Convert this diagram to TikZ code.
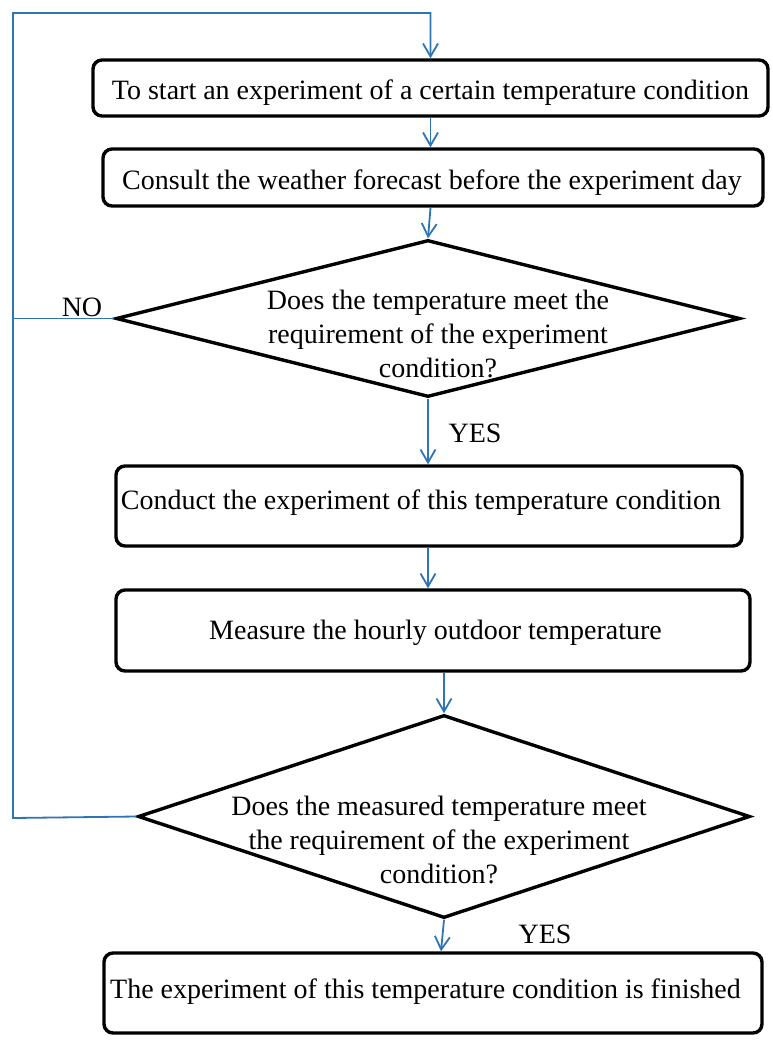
\documentclass[tikz,border=0pt]{standalone}
\usepackage{fontspec}
\setmainfont{Liberation Serif}
\usetikzlibrary{shapes.geometric,arrows.meta}
\definecolor{flowblue}{RGB}{46,117,182}
\tikzset{
  stepbox/.style={draw=black,line width=3.4pt,rounded corners=9pt,inner sep=0pt},
  decision/.style={draw=black,line width=3.4pt,diamond,inner sep=0pt},
  flow/.style={draw=flowblue,line width=1.8pt},
  flowarrow/.style={flow,-{Straight Barb[length=13pt,width=15pt,line width=1.8pt]}},
  txt/.style={font=\fontsize{28}{34}\selectfont,align=center,inner sep=0pt},
}
\begin{document}
\begin{tikzpicture}[x=1pt,y=-1pt]
\useasboundingbox (0,0) rectangle (772,1043);
% boxes
\node[stepbox,minimum width=675pt,minimum height=56pt] (b1) at (430.5,88) {};
\node[txt] (t1) at (430.5,93) {To start an experiment of a certain temperature condition};
\node[stepbox,minimum width=660pt,minimum height=57pt] (b2) at (433,177.5) {};
\node[txt] (t2) at (432,183) {Consult the weather forecast before the experiment day};
\node[decision,minimum width=624pt,minimum height=157pt] (d1) at (428,318.5) {};
\node[txt] (t3) at (438,334) {Does the temperature meet the\\requirement of the experiment\\condition?};
\node[stepbox,minimum width=626pt,minimum height=80pt] (b3) at (429,506) {};
\node[txt] (t4) at (421,503) {Conduct the experiment of this temperature condition};
\node[stepbox,minimum width=634pt,minimum height=81pt] (b4) at (433,630.5) {};
\node[txt] (t5) at (435.5,633) {Measure the hourly outdoor temperature};
\node[decision,minimum width=612pt,minimum height=203pt] (d2) at (444,816.5) {};
\node[txt] (t6) at (439,840) {Does the measured temperature meet\\the requirement of the experiment\\condition?};
\node[stepbox,minimum width=658pt,minimum height=80pt] (b5) at (433,993) {};
\node[txt] (t7) at (425.5,992) {The experiment of this temperature condition is finished};
% labels
\node[txt] (no) at (82,307) {NO};
\node[txt] (yes1) at (475,433) {YES};
\node[txt] (yes2) at (545,934) {YES};
% loop
\coordinate (lb) at (13,818);
\coordinate (lt) at (13,13);
\draw[flow] (d1.west) -- (d1.west -| lb);
\draw[flowarrow] (d2.west) -- (lb) -- (lt) -- (lt -| b1.north) -- (b1.north);
% straight flows
\draw[flowarrow] (b1.south) -- (b1.south |- b2.north);
\draw[flowarrow] (b1.south |- b2.south) -- (d1.north);
\draw[flowarrow] (d1.south) -- (d1.south |- b3.north);
\draw[flowarrow] (d1.south |- b3.south) -- (d1.south |- b4.north);
\draw[flowarrow] (d2.north |- b4.south) -- (d2.north);
\draw[flowarrow] (d2.south) -- ([xshift=-3pt]d2.south |- b5.north);
\end{tikzpicture}
\end{document}
